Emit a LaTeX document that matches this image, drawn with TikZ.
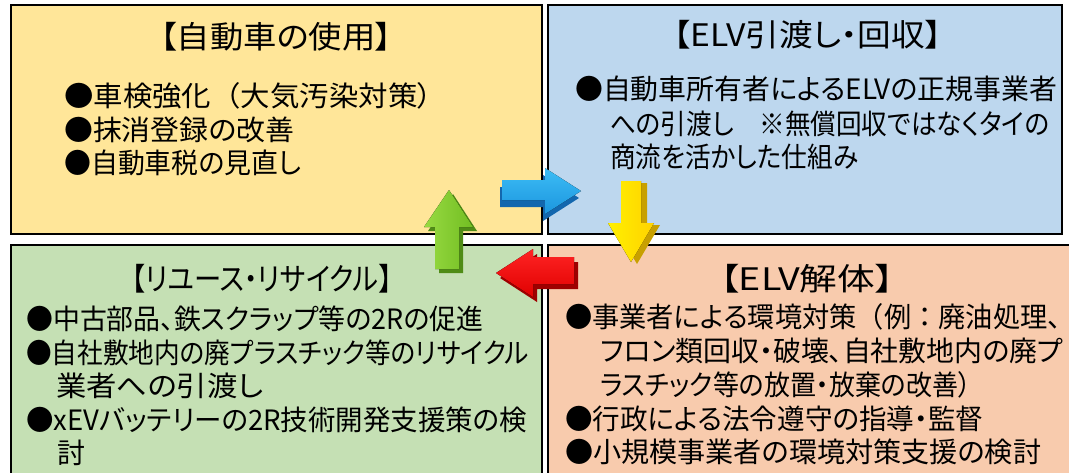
\documentclass[tikz,border=0pt]{standalone}
\usepackage{fontspec}
\setmainfont[RawFeature=+palt]{Noto Sans CJK JP}
\newfontfamily\fw{Noto Sans CJK JP}
\usepackage{graphicx}
\newsavebox\fitbox
\newcommand\fitw[2]{\sbox\fitbox{#2}\pgfmathsetmacro\fitsx{#1/\the\wd\fitbox}\scalebox{\fitsx}[1]{\usebox\fitbox}}
\definecolor{tlc}{HTML}{FFE699}
\definecolor{trc}{HTML}{BDD7EE}
\definecolor{blc}{HTML}{C5E0B4}
\definecolor{brc}{HTML}{F8CBAD}
\definecolor{bluelt}{HTML}{3DBDF5}
\definecolor{bluemd}{HTML}{1B95DE}
\definecolor{bluedk}{HTML}{1367AE}
\definecolor{yellt}{HTML}{FFF000}
\definecolor{yelmd}{HTML}{FFD200}
\definecolor{yeldk}{HTML}{C8A000}
\definecolor{redlt}{HTML}{FF2424}
\definecolor{redmd}{HTML}{E00000}
\definecolor{reddk}{HTML}{9E0000}
\definecolor{grnlt}{HTML}{98DA42}
\definecolor{grnmd}{HTML}{72BE22}
\definecolor{grndk}{HTML}{4F8C16}
\tikzset{
  qbox/.style={draw=black, line width=2.2pt, anchor=north west, inner sep=0pt, outer sep=0pt},
  ttl/.style={inner sep=0pt, anchor=center, font=\fontsize{31}{36}\selectfont},
  bul/.style={inner sep=0pt, anchor=west, font=\fontsize{28}{34}\selectfont},
}
\newcommand\bluearrow[1]{\fill[#1] (502,180) -- (545,180) -- (545,168) -- (581,191) -- (545,214) -- (545,200) -- (502,200) -- cycle;}
\newcommand\yelarrow[1]{\fill[#1] (621,181) -- (641,181) -- (641,223) -- (654,223) -- (631,262) -- (608,223) -- (621,223) -- cycle;}
\newcommand\redarrow[1]{\fill[#1] (574,257) -- (533,257) -- (533,249) -- (496,273) -- (533,297) -- (533,284) -- (574,284) -- cycle;}
\newcommand\grnarrow[1]{\fill[#1] (435,269) -- (435,227) -- (424,227) -- (449,190) -- (473,227) -- (459,227) -- (459,269) -- cycle;}
\begin{document}
\begin{tikzpicture}[x=1pt,y=-1pt]
\useasboundingbox (0,0) rectangle (1069,472);
\clip (0,0) rectangle (1069,472);
\fill[white] (0,0) rectangle (1069,472);
% quadrant boxes
\node[qbox, fill=tlc, minimum width=531pt, minimum height=229pt] (tl) at (11,5) {};
\node[qbox, fill=trc, minimum width=514pt, minimum height=229pt] (tr) at (548,5) {};
\node[qbox, fill=blc, minimum width=531pt, minimum height=250pt] (bl) at (11,245) {};
\node[qbox, fill=brc, minimum width=524pt, minimum height=250pt] (br) at (548,245) {};
% arrows
\bluearrow{bluedk, shift={(-2,7)}}
\bluearrow{top color=bluelt, bottom color=bluemd}
\yelarrow{yeldk, shift={(6,2)}}
\yelarrow{left color=yellt, right color=yelmd}
\redarrow{reddk, shift={(4,5)}}
\redarrow{top color=redlt, bottom color=redmd}
\grnarrow{grndk, shift={(4,4)}}
\grnarrow{left color=grnlt, right color=grnmd}
% top-left
\node[ttl] (t1) at (276,37) {\fitw{232}{【自動車の使用】}};
\node[bul] (a1) at (64,96) {\fitw{368}{●車検強化{\fw （}大気汚染対策）}};
\node[bul] (a2) at (64,130) {\fitw{230}{●抹消登録の改善}};
\node[bul] (a3) at (64,163) {\fitw{237}{●自動車税の見直し}};
% top-right
\node[ttl] (t2) at (808,35) {\fitw{268}{【ELV引渡し・回収】}};
\node[bul] (b1) at (575,89) {\fitw{482}{●自動車所有者によるELVの正規事業者}};
\node[bul] (b2) at (610,124) {\fitw{439}{への引渡し　※無償回収ではなくタイの}};
\node[bul] (b3) at (610,157) {\fitw{248}{商流を活かした仕組み}};
% bottom-left
\node[ttl] (t3) at (262,279) {\fitw{261}{【リユース・リサイクル】}};
\node[bul] (c1) at (26,319) {\fitw{457}{●中古部品、鉄スクラップ等の2Rの促進}};
\node[bul] (c2) at (26,353) {\fitw{503}{●自社敷地内の廃プラスチック等のリサイクル}};
\node[bul] (c3) at (56,386) {\fitw{207}{業者への引渡し}};
\node[bul] (c4) at (26,420) {\fitw{501}{●xEVバッテリーの2R技術開発支援策の検}};
\node[bul] (c5) at (57,453) {討};
% bottom-right
\node[ttl] (t4) at (807,279) {\fitw{174}{【ELV解体】}};
\node[bul] (d1) at (565,317) {\fitw{496}{●事業者による環境対策{\fw （}例{\fw ：}廃油処理、}};
\node[bul] (d2) at (600,351) {\fitw{463}{フロン類回収・破壊、自社敷地内の廃プ}};
\node[bul] (d3) at (600,385) {\fitw{371}{ラスチック等の放置・放棄の改善）}};
\node[bul] (d4) at (565,419) {\fitw{418}{●行政による法令遵守の指導・監督}};
\node[bul] (d5) at (565,452) {\fitw{476}{●小規模事業者の環境対策支援の検討}};
\end{tikzpicture}
\end{document}
